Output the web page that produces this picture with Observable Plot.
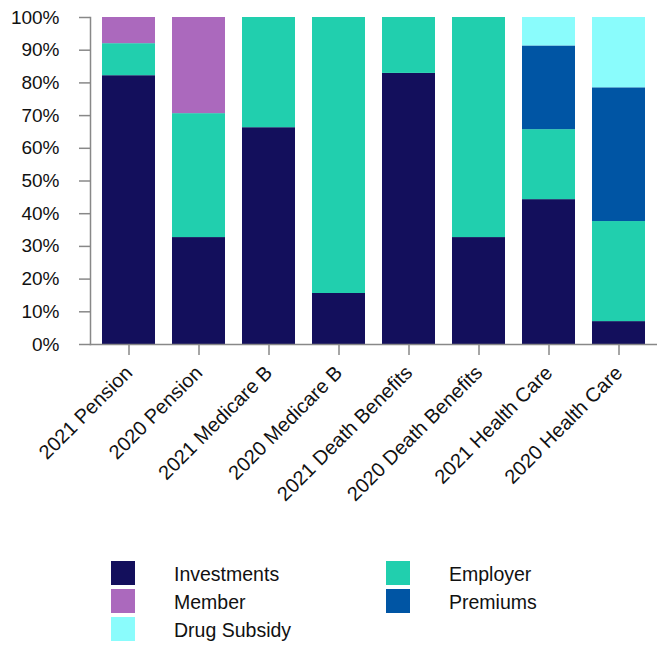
<!DOCTYPE html>
<html><head><meta charset="utf-8">
<script src="https://cdn.jsdelivr.net/npm/d3@7"></script>
<script src="https://cdn.jsdelivr.net/npm/@observablehq/plot@0.6"></script>
<style>
body{margin:0;background:#fff;font-family:"Liberation Sans",Arial,sans-serif}
#legend{position:relative;width:657px;height:125px}
.item{position:absolute;height:24px;font-size:19.5px;color:#111}
.sw{position:absolute;left:0;top:0;width:24px;height:24px}
.lb{position:absolute;top:2px;white-space:nowrap;line-height:22px}
</style></head><body><div id="chart"></div><div id="legend"></div>
<script>
const categories = ["2021 Pension","2020 Pension","2021 Medicare B","2020 Medicare B","2021 Death Benefits","2020 Death Benefits","2021 Health Care","2020 Health Care"];
const seriesNames = ["Investments","Employer","Member","Premiums","Drug Subsidy"];
const investments = [82.2,32.7,66.3,15.6,82.9,32.7,44.3,7.0];
const employer    = [9.8,37.9,33.7,84.4,17.1,67.3,21.4,30.6];
const member      = [8.0,29.4,0,0,0,0,0,0];
const premiums    = [0,0,0,0,0,0,25.6,40.9];
const drugSubsidy = [0,0,0,0,0,0,8.7,21.5];
const seriesColors = ["#130f5c","#21cfae","#ab69bd","#0055a4","#8afcfc"];
const yTicks = [0,10,20,30,40,50,60,70,80,90,100];

const seriesValues = [investments, employer, member, premiums, drugSubsidy];
const rows = [];
seriesNames.forEach((s, si) => categories.forEach((c, ci) => rows.push({category: c, series: s, value: seriesValues[si][ci]})));

const chart = Plot.plot({
  width: 657, height: 520,
  marginLeft: 90, marginRight: 0, marginTop: 17, marginBottom: 176,
  style: {fontFamily: '"Liberation Sans", Arial, sans-serif', fontSize: "19px", color: "#111", background: "#fff", overflow: "visible"},
  x: {domain: categories, paddingInner: 0.24, paddingOuter: 0.12, label: null},
  y: {domain: [0, 100], label: null},
  color: {domain: seriesNames, range: seriesColors},
  marks: [
    Plot.barY(rows, {x: "category", y: "value", fill: "series"}),
    Plot.axisY({ticks: yTicks, tickFormat: d => d + "%", tickSize: 11, tickPadding: 20, stroke: "#888", strokeWidth: 1.5, fill: "#111", fontSize: 19, label: null}),
    Plot.axisX({tickRotate: -45, tickSize: 11, tickPadding: 14, stroke: "#888", strokeWidth: 1.5, fill: "#111", fontSize: 20, label: null}),
    Plot.frame({anchor: "left", stroke: "#888", strokeWidth: 1.5}),
    Plot.frame({anchor: "bottom", stroke: "#888", strokeWidth: 1.5})
  ]
});
document.getElementById("chart").appendChild(chart);

const legend = document.getElementById("legend");
const pos = [[111,41],[386,41],[111,69],[386,69],[111,97]];
seriesNames.forEach((name, k) => {
  const it = document.createElement("div");
  it.className = "item";
  it.style.left = pos[k][0] + "px";
  it.style.top = pos[k][1] + "px";
  const sw = document.createElement("div");
  sw.className = "sw";
  sw.style.background = seriesColors[k];
  const lb = document.createElement("div");
  lb.className = "lb";
  lb.style.left = "63px";
  lb.textContent = name;
  it.appendChild(sw); it.appendChild(lb);
  legend.appendChild(it);
});
</script></body></html>
